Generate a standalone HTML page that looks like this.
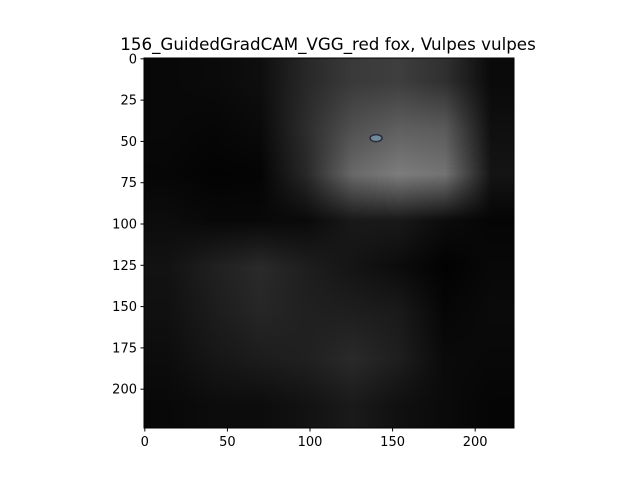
<!DOCTYPE html>
<html><head><meta charset="utf-8"><style>
body{margin:0;background:#fff;position:relative;width:640px;height:480px;overflow:hidden;}
#img{position:absolute;left:144px;top:58px;width:370px;height:370px;}
svg{position:absolute;left:0;top:0;}
svg text{font-family:"DejaVu Sans","Liberation Sans",sans-serif;fill:#000;}
</style></head><body>
<canvas id="img" width="370" height="370"></canvas>
<svg id="chart" width="640" height="480" viewBox="0 0 640 480" xmlns="http://www.w3.org/2000/svg">
<text x="328" y="50" font-size="16.7" text-anchor="middle">156_GuidedGradCAM_VGG_red fox, Vulpes vulpes</text>
<g id="eye"></g>
<rect x="144" y="58" width="370" height="370" fill="none" stroke="#000" stroke-width="1"/>
<g id="xticks"></g><g id="yticks"></g>
</svg>
<script>
const xTicks=[0,50,100,150,200];
const yTicks=[0,25,50,75,100,125,150,175,200];
const gridRows=[
[8,10,14,40,58,62,48,10],
[8,6,10,45,80,95,90,15],
[6,3,4,40,105,125,115,20],
[12,8,8,10,25,25,12,5],
[18,32,42,30,20,12,2,8],
[16,28,38,32,30,26,6,10],
[12,22,28,32,42,30,10,8],
[8,12,12,18,26,16,10,5]
];
const eyePos=[140,48];
const NS="http://www.w3.org/2000/svg";
const X0=144,Y0=58,S=370/224;
const sx=v=>X0+(v+0.5)*S, sy=v=>Y0+(v+0.5)*S;
const cv=document.getElementById('img'),ctx=cv.getContext('2d');
const W=370,H=370,n=gridRows.length,m=gridRows[0].length;
const id=ctx.createImageData(W,H);
for(let py=0;py<H;py++){
 const fy=Math.min(Math.max(py/H*n-0.5,0),n-1);
 const r0=Math.floor(fy),r1=Math.min(r0+1,n-1),ty=fy-r0;
 for(let px=0;px<W;px++){
  const fx=Math.min(Math.max(px/W*m-0.5,0),m-1);
  const c0=Math.floor(fx),c1=Math.min(c0+1,m-1),tx=fx-c0;
  const a=gridRows[r0][c0]*(1-tx)+gridRows[r0][c1]*tx;
  const b=gridRows[r1][c0]*(1-tx)+gridRows[r1][c1]*tx;
  const g=a*(1-ty)+b*ty;
  const i=(py*W+px)*4;
  id.data[i]=g;id.data[i+1]=g;id.data[i+2]=g;id.data[i+3]=255;
 }
}
ctx.putImageData(id,0,0);
const eye=document.getElementById('eye');
const e1=document.createElementNS(NS,'ellipse');


e1.setAttribute('cx',sx(eyePos[0]));e1.setAttribute('cy',sy(eyePos[1]));
e1.setAttribute('rx',6);e1.setAttribute('ry',3.5);e1.setAttribute('fill','#6f8a98');e1.setAttribute('stroke','#2a2a40');e1.setAttribute('stroke-width','1.5');
eye.appendChild(e1);
const xt=document.getElementById('xticks');
xTicks.forEach(v=>{
 const x=sx(v);
 const l=document.createElementNS(NS,'line');
 
 
 l.setAttribute('x1',x);l.setAttribute('x2',x);l.setAttribute('y1',428);l.setAttribute('y2',431.5);l.setAttribute('stroke','#000');
 xt.appendChild(l);
 const t=document.createElementNS(NS,'text');
 
 
 t.setAttribute('x',x);t.setAttribute('y',446);t.setAttribute('font-size','13');t.setAttribute('text-anchor','middle');
 t.textContent=v;xt.appendChild(t);
});
const yt=document.getElementById('yticks');
yTicks.forEach(v=>{
 const y=sy(v);
 const l=document.createElementNS(NS,'line');
 
 
 l.setAttribute('x1',140.5);l.setAttribute('x2',144);l.setAttribute('y1',y);l.setAttribute('y2',y);l.setAttribute('stroke','#000');
 yt.appendChild(l);
 const t=document.createElementNS(NS,'text');
 
 
 t.setAttribute('x',137);t.setAttribute('y',y+4.5);t.setAttribute('font-size','13');t.setAttribute('text-anchor','end');
 t.textContent=v;yt.appendChild(t);
});
</script>
</body></html>
